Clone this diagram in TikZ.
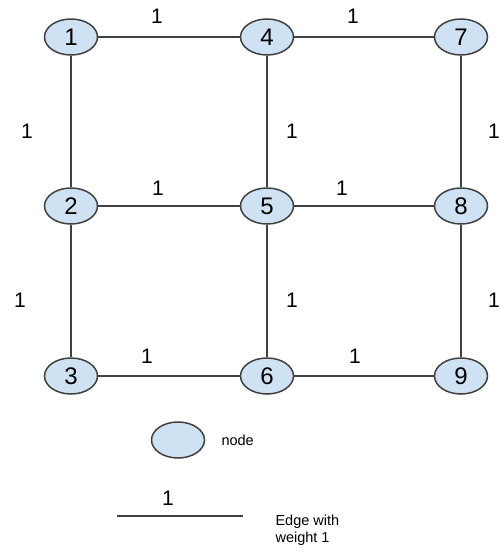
\documentclass[tikz,border=0pt]{standalone}
\usepackage{fontspec}
\setmainfont{Liberation Sans}
\usetikzlibrary{shapes.geometric}
\definecolor{nodefill}{HTML}{CFE2F3}
\definecolor{linegray}{HTML}{404040}
\begin{document}
\begin{tikzpicture}[x=1pt, y=-1pt,
  vert/.style={ellipse, draw=linegray, line width=1.5pt, fill=nodefill, minimum width=53pt, minimum height=36pt, inner sep=0pt, font=\fontsize{24}{24}\selectfont},
  wt/.style={font=\fontsize{21}{21}\selectfont},
  lbl/.style={font=\fontsize{14.5}{17}\selectfont, anchor=west, align=left},
  link/.style={draw=linegray, line width=1.3pt}]
\useasboundingbox (0,0) rectangle (499,555);

\node (n1) at (71, 37) [vert] {1};
\node (n2) at (71, 206) [vert] {2};
\node (n3) at (71, 376) [vert] {3};
\node (n4) at (267, 37) [vert] {4};
\node (n5) at (267, 206) [vert] {5};
\node (n6) at (267, 376) [vert] {6};
\node (n7) at (461, 37) [vert] {7};
\node (n8) at (461, 206) [vert] {8};
\node (n9) at (461, 376) [vert] {9};

\draw[link] (n1) to (n4);
\draw[link] (n4) to (n7);
\draw[link] (n2) to (n5);
\draw[link] (n5) to (n8);
\draw[link] (n3) to (n6);
\draw[link] (n6) to (n9);
\draw[link] (n1) to (n2);
\draw[link] (n2) to (n3);
\draw[link] (n4) to (n5);
\draw[link] (n5) to (n6);
\draw[link] (n7) to (n8);
\draw[link] (n8) to (n9);

% weights
\node (w14) at (157, 16) [wt] {1};
\node (w47) at (353, 16) [wt] {1};
\node (w25) at (158, 188) [wt] {1};
\node (w58) at (342, 188) [wt] {1};
\node (w36) at (147, 356) [wt] {1};
\node (w69) at (355, 356) [wt] {1};
\node (w12) at (27, 131) [wt] {1};
\node (w23) at (20, 300) [wt] {1};
\node (w45) at (292, 131) [wt] {1};
\node (w56) at (292, 300) [wt] {1};
\node (w78) at (494, 131) [wt] {1};
\node (w89) at (494, 300) [wt] {1};

% legend
\node (key) at (178, 440) [vert] {};
\node (keytxt) at (218, 440) [lbl] {node};
\coordinate (ea) at (117, 516);
\coordinate (eb) at (243, 516);
\draw[link] (ea) to (eb);
\node (keyw) at (168, 498) [wt] {1};
\node (edgetxt) at (272, 530) [lbl] {Edge with\\weight 1};
\end{tikzpicture}
\end{document}
